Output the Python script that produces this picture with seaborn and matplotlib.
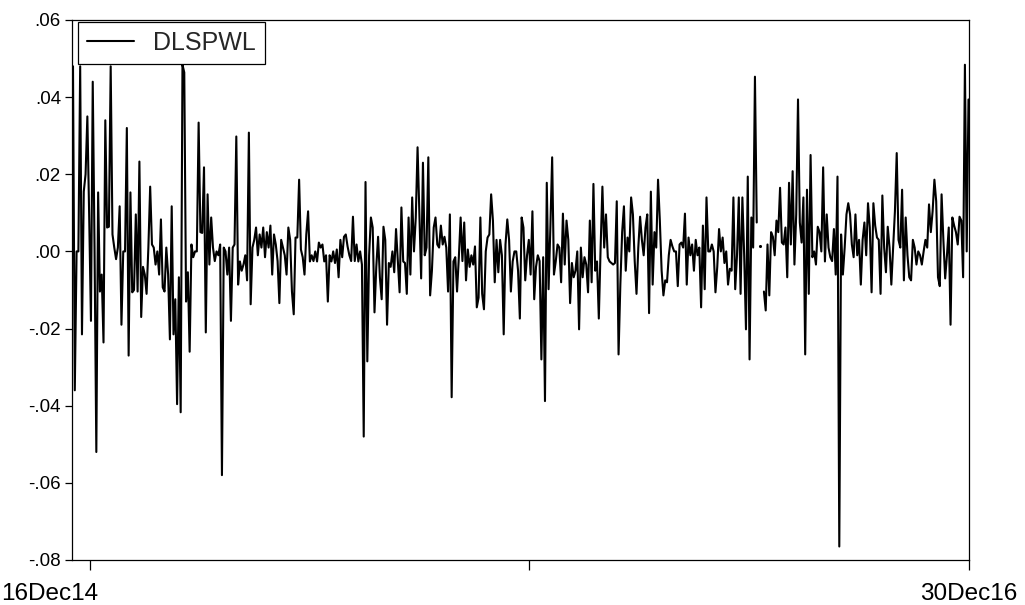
import numpy as np
import pandas as pd
import matplotlib
matplotlib.use("Agg")
import matplotlib.pyplot as plt
import seaborn as sns

# Daily log-differences of the SPWL price series, in observation order
dlspwl_a = [0.048, -0.036, 0.000, 0.000, 0.048, -0.0215, 0.0155, 0.020, 0.035, 0.0096,
            -0.018, 0.044, 0.001, -0.052, 0.0153, -0.0104, -0.006, -0.0236, 0.034, 0.0062,
            0.0064, 0.048, 0.0044, 0.001, -0.002, 0.001, 0.0117, -0.019, 0.000, 0.000,
            0.032, -0.027, 0.0153, -0.0106]
dlspwl_b = [-0.010, 0.0096, -0.0104, 0.0233, -0.017, -0.004, -0.006, -0.011, 0.001, 0.0168,
            0.0018, 0.001, -0.0034, 0.000, -0.006, 0.0083, -0.0093, -0.0104, 0.001, -0.006,
            -0.0228, 0.0117, -0.0215, -0.0124, -0.0396, -0.0067, -0.0417, 0.0484, 0.0464, -0.013,
            -0.0054, -0.026, 0.0018, -0.0015, 0.000, 0.000, 0.0334, 0.005, 0.0048, 0.0218]
dlspwl_c = [-0.021, 0.0148, -0.0034, 0.0088, 0.001, -0.0025, 0.000, -0.001, 0.0018, -0.058,
            0.001, 0.000, -0.006, 0.001, -0.018, 0.001, 0.0018, 0.0298, -0.0086, -0.0026,
            -0.005, -0.0034, -0.001, -0.0075, 0.0308, -0.0137, 0.001, 0.003, 0.0062, -0.001,
            0.0044, 0.001, 0.0062, -0.0015, 0.005, 0.001, 0.0067, -0.006, 0.0044, 0.0018,
            -0.0025, -0.0134, 0.003, 0.001]
dlspwl_d = [-0.001, -0.006, 0.0062, 0.003, -0.0104, -0.0163, 0.0036, 0.0036, 0.0186, 0.0005,
            -0.0015, -0.006, 0.0044, 0.0104, -0.0026, -0.001, -0.0025, 0.000, -0.0026, 0.0023,
            0.001, 0.0018, -0.0026, -0.001, -0.013, -0.001, -0.0026, 0.000, -0.003, 0.0005,
            -0.0067, 0.003, -0.0015, 0.0038, 0.0044, 0.0013, -0.001, -0.0025, 0.009, -0.0025,
            0.0018, -0.0026, 0.000, -0.0034, -0.048]
dlspwl_e = [0.018, -0.0285, -0.001, 0.0088, 0.0062, -0.0158, -0.004, 0.0038, -0.0067, -0.0124,
            0.0064, 0.003, -0.019, -0.003, -0.004, 0.000, -0.0054, 0.0058, -0.0026, -0.0106,
            0.0114, -0.0026, -0.003, -0.011, 0.0088, -0.006, 0.014, 0.000, 0.0088, 0.027,
            0.0104, -0.007, 0.023, -0.001, 0.001, 0.0244, -0.0114, -0.005, 0.0062, 0.0088,
            0.0018]
dlspwl_f = [0.001, 0.0067, 0.0018, 0.0038, 0.001, -0.0104, 0.0096, -0.0378, -0.0026, -0.0015,
            -0.0104, -0.0015, 0.0088, -0.0025, 0.0075, -0.0075, 0.0005, -0.004, -0.001, -0.0034,
            0.0013, -0.0145, -0.012, 0.0088, -0.011, -0.015, 0.000, 0.0036, 0.0044, 0.0148,
            0.008, -0.008, 0.003, -0.0054, 0.003, -0.001, -0.0215, 0.0018, 0.0083, 0.003,
            -0.0104, -0.0026, 0.000, 0.000]
dlspwl_g = [-0.005, -0.0174, 0.0088, 0.0062, -0.0075, -0.001, 0.003, -0.006, 0.0104, -0.0124,
            -0.004, -0.001, -0.0025, -0.028, -0.0015, -0.0388, 0.0178, -0.0098, 0.0062, 0.0244,
            -0.006, -0.0026, 0.0018, 0.001, -0.008, 0.0098, -0.0034, 0.008, 0.003, -0.0134,
            -0.003, -0.0067, -0.005, 0.000, -0.0202, 0.001, -0.0067, -0.0015, -0.0034, -0.0106,
            0.008, -0.008, 0.0175]
dlspwl_h = [-0.005, -0.0026, -0.0174, 0.001, 0.0168, 0.001, 0.0096, -0.0015, -0.0026, -0.003,
            -0.0034, -0.003, 0.013, -0.0267, -0.0086, 0.005, 0.0117, -0.005, 0.0036, 0.000,
            0.014, 0.0096, -0.0025, -0.011, 0.001, 0.009, 0.003, -0.001, 0.0062, 0.0096,
            -0.016, 0.0155, -0.0086, 0.005, 0.001, 0.0186, 0.008, -0.005, -0.0114, -0.0075]
dlspwl_i = [-0.008, -0.001, 0.003, 0.0013, 0.000, 0.000, -0.009, 0.0018, 0.0023, 0.001,
            0.0098, -0.0086, 0.0036, -0.001, 0.0018, -0.005, 0.003, -0.001, 0.001, -0.0145,
            0.0067, -0.0098, 0.014, 0.000, 0.000, 0.0018, 0.000, -0.0106, -0.004, 0.0058,
            0.000, 0.0036, -0.003, 0.000, -0.0086, -0.0045, -0.005, 0.014, -0.0098, -0.001,
            0.014, -0.011, 0.014, -0.001, -0.0202, 0.0194, -0.028]
dlspwl_j = [0.0088, 0.001, 0.0453, 0.0075, np.nan, 0.0013, np.nan, -0.0104, -0.0153, 0.0018,
            -0.0114, 0.005, 0.0038, -0.001, 0.008, 0.005, 0.0165, 0.0023, 0.0018, 0.0062,
            -0.0067, 0.0178, 0.0018, 0.0208, -0.0034, 0.0096, 0.0394, 0.0075, 0.0023, 0.014,
            -0.0267, 0.016, -0.011, 0.025, -0.0015, 0.000, -0.0034, 0.0064, 0.005, 0.000,
            0.0218, -0.0026]
dlspwl_k = [0.0096, 0.001, -0.0015, -0.0025, 0.0058, -0.006, 0.0194, -0.0765, 0.0044, -0.006,
            0.001, 0.0096, 0.0125, 0.0096, 0.0018, -0.0015, 0.0096, -0.001, 0.003, -0.0086,
            0.003, 0.0075, -0.001, 0.0125, 0.0062, -0.0106, 0.0125, 0.0067, 0.0036, 0.003,
            -0.011, 0.0145, 0.001, -0.0054, 0.0064, 0.001, -0.0086, 0.001, 0.0104, 0.0255,
            0.003, 0.001]
dlspwl_l = [0.016, -0.0075, 0.0088, -0.001, -0.0067, -0.0075, 0.003, 0.001, -0.0034, 0.000,
            -0.001, -0.0034, 0.000, 0.003, 0.001, 0.0122, 0.005, 0.0104, 0.0186, 0.013,
            -0.0067, -0.009, 0.0148, 0.003, -0.007, -0.001, 0.0062, -0.019, 0.0088, 0.0067,
            0.005, 0.0018, 0.009, 0.008, -0.0067, 0.0484, 0.000, 0.0394]

series_name = "DLSPWL"
date_labels = ["16Dec14", "", "30Dec16"]
y_ticks = [-0.08, -0.06, -0.04, -0.02, 0.00, 0.02, 0.04, 0.06]
y_labels = ["-.08", "-.06", "-.04", "-.02", ".00", ".02", ".04", ".06"]

values = np.array(dlspwl_a + dlspwl_b + dlspwl_c + dlspwl_d + dlspwl_e + dlspwl_f
                  + dlspwl_g + dlspwl_h + dlspwl_i + dlspwl_j + dlspwl_k + dlspwl_l)
n = len(values)
obs = np.arange(n)

# contiguous runs between missing observations
run_id = np.cumsum(np.isnan(values))
df = pd.DataFrame({"obs": obs, "value": values, "run": run_id}).dropna()
run_len = df.groupby("run")["obs"].transform("size")
lines = df[run_len > 1]
points = df[run_len == 1]

sns.set_style("ticks")
plt.rcParams["font.family"] = ["Liberation Sans", "DejaVu Sans"]

W, H = 1025, 605
fig = plt.figure(figsize=(W / 100, H / 100), dpi=100)
ax = fig.add_axes([72 / W, (H - 560) / H, (968.5 - 72) / W, 540 / H])

first = True
for rid, grp in lines.groupby("run"):
    sns.lineplot(data=grp, x="obs", y="value", ax=ax, color="black", linewidth=1.5,
                 estimator=None, label=series_name if first else None, legend=False)
    first = False
sns.scatterplot(data=points, x="obs", y="value", ax=ax, color="black", s=5,
                linewidth=0, legend=False)

# observation axis: first point sits just inside the frame, last point on the right edge
step = (n - 1) / (968 - 73)
ax.set_xlim(-1 * step, n - 1)
first_tick = (90 - 73) * step
ax.set_xticks([first_tick, (first_tick + n - 1) / 2, n - 1])
ax.set_xticklabels(["", date_labels[1], date_labels[2]])
ax.set_ylim(-0.08, 0.06)
ax.set_yticks(y_ticks)
ax.set_yticklabels(y_labels)
ax.set_xlabel("")
ax.set_ylabel("")

for side in ["top", "right", "bottom", "left"]:
    ax.spines[side].set_visible(True)
    ax.spines[side].set_color("black")
    ax.spines[side].set_linewidth(0.9)

ax.tick_params(axis="y", direction="out", length=5, width=0.9, pad=3,
               labelsize=13.5, colors="black")
ax.tick_params(axis="x", direction="out", length=7, width=0.9, pad=9.5,
               labelsize=17.5, colors="black")
# first date label is pushed flush against the left edge of the canvas
fig.text(1 / W, 5 / H, date_labels[0], ha="left", va="baseline", fontsize=17.5,
         color="black")

leg = ax.legend(handles=ax.lines[:1], labels=[series_name], loc="upper left",
                bbox_to_anchor=(6 / 896.5, 1 - 2 / 540), borderaxespad=0,
                fontsize=18, frameon=True, fancybox=False, framealpha=1,
                edgecolor="black", handlelength=1.9, handletextpad=0.75,
                borderpad=0.35)
leg.get_frame().set_linewidth(0.9)
leg.get_frame().set_boxstyle("square", pad=0)

fig.savefig("out.png", dpi=100, facecolor="white")
